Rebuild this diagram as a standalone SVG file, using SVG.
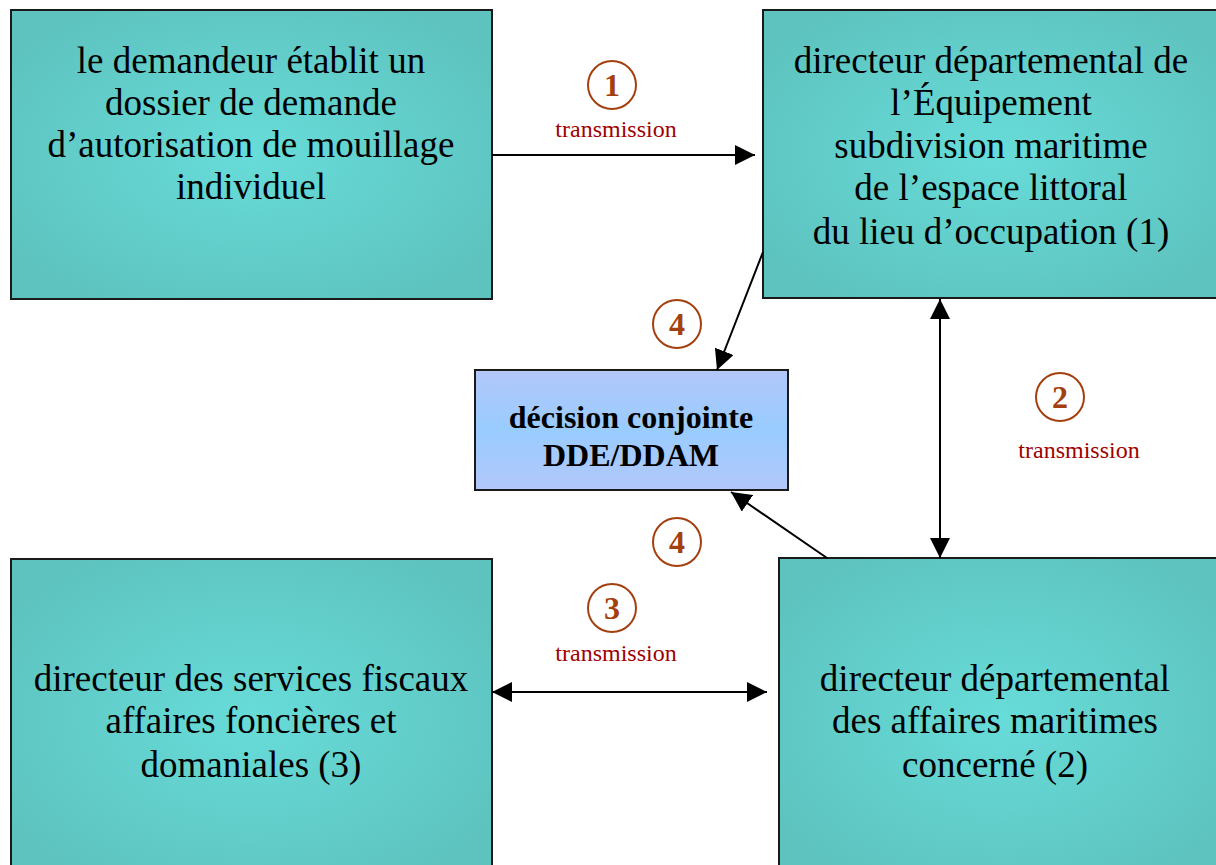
<svg xmlns="http://www.w3.org/2000/svg" width="1216" height="865" viewBox="0 0 1216 865">
<defs>
<radialGradient id="teal" cx="50%" cy="50%" r="60%">
<stop offset="0" stop-color="#67dcd9"/>
<stop offset="1" stop-color="#5ec3bf"/>
</radialGradient>
<linearGradient id="blue" x1="0" y1="0" x2="0" y2="1">
<stop offset="0" stop-color="#b3c7fa"/>
<stop offset="0.5" stop-color="#99ccff"/>
<stop offset="1" stop-color="#b3c7fa"/>
</linearGradient>
<marker id="ah" viewBox="0 0 20 20" refX="20" refY="10" markerWidth="20" markerHeight="20" markerUnits="userSpaceOnUse" orient="auto-start-reverse">
<path d="M0,0 L20,10 L0,20 Z" fill="#000"/>
</marker>
</defs>
<style>
.box{fill:url(#teal);stroke:#1a1a1a;stroke-width:2}
.t{font-family:"Liberation Serif",serif;font-size:37px;fill:#000;text-anchor:middle}
.b{font-family:"Liberation Serif",serif;font-size:32px;font-weight:bold;fill:#000;text-anchor:middle}
.num{font-family:"Liberation Serif",serif;font-size:32px;font-weight:bold;fill:#a3400f;text-anchor:middle}
.tr{font-family:"Liberation Serif",serif;font-size:24px;fill:#a00000;text-anchor:middle}
.c{fill:none;stroke:#a3400f;stroke-width:2}
.ln{stroke:#000;stroke-width:2;fill:none}
</style>
<rect width="1216" height="865" fill="#fff"/>
<g id="n1">
<rect class="box" x="11" y="10" width="481" height="289"/>
<text class="t" x="251" y="73">le demandeur établit un</text>
<text class="t" x="251" y="115">dossier de demande</text>
<text class="t" x="251" y="157">d’autorisation de mouillage</text>
<text class="t" x="251" y="199">individuel</text>
</g>
<g id="n2">
<rect class="box" x="763" y="10" width="460" height="288"/>
<text class="t" x="991" y="73">directeur départemental de</text>
<text class="t" x="991" y="115">l’Équipement</text>
<text class="t" x="991" y="158">subdivision maritime</text>
<text class="t" x="991" y="200">de l’espace littoral</text>
<text class="t" x="991" y="244">du lieu d’occupation (1)</text>
</g>
<g id="n3">
<rect class="box" x="11" y="559" width="481" height="320"/>
<text class="t" x="251" y="691">directeur des services fiscaux</text>
<text class="t" x="251" y="733">affaires foncières et</text>
<text class="t" x="251" y="777">domaniales (3)</text>
</g>
<g id="n4">
<rect class="box" x="779" y="558" width="444" height="320"/>
<text class="t" x="995" y="691">directeur départemental</text>
<text class="t" x="995" y="733">des affaires maritimes</text>
<text class="t" x="995" y="777">concerné (2)</text>
</g>
<g id="n5">
<rect x="475" y="370" width="313" height="120" fill="url(#blue)" stroke="#1a1a1a" stroke-width="2"/>
<text class="b" x="631" y="428">décision conjointe</text>
<text class="b" x="631" y="466">DDE/DDAM</text>
</g>
<g id="connectors">
<line class="ln" x1="492" y1="155" x2="755" y2="155" marker-end="url(#ah)"/>
<line class="ln" x1="940" y1="299" x2="940" y2="558" marker-start="url(#ah)" marker-end="url(#ah)"/>
<line class="ln" x1="492" y1="692" x2="767" y2="692" marker-start="url(#ah)" marker-end="url(#ah)"/>
<line class="ln" x1="763" y1="252" x2="717" y2="370" marker-end="url(#ah)"/>
<line class="ln" x1="827" y1="558" x2="731" y2="492" marker-end="url(#ah)"/>
</g>
<g id="labels">
<circle class="c" cx="612" cy="85" r="24"/>
<text class="num" x="612" y="96">1</text>
<text class="tr" x="616" y="137">transmission</text>
<circle class="c" cx="1060" cy="397" r="24"/>
<text class="num" x="1060" y="408">2</text>
<text class="tr" x="1079" y="458">transmission</text>
<circle class="c" cx="612" cy="608" r="24"/>
<text class="num" x="612" y="619">3</text>
<text class="tr" x="616" y="661">transmission</text>
<circle class="c" cx="677" cy="324" r="24"/>
<text class="num" x="677" y="335">4</text>
<circle class="c" cx="677" cy="542" r="24"/>
<text class="num" x="677" y="553">4</text>
</g>
</svg>
